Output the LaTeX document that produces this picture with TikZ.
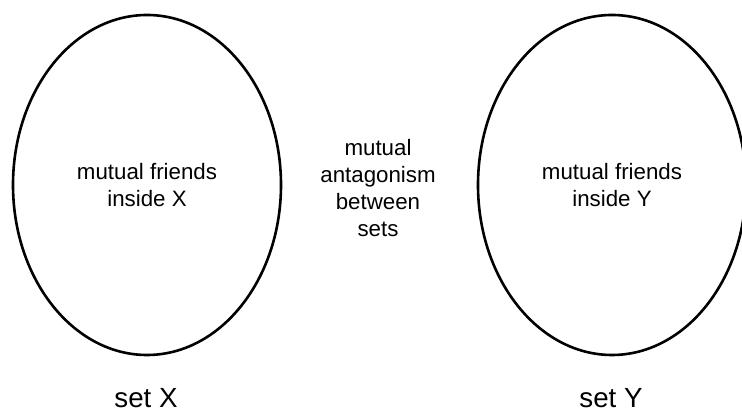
\documentclass[tikz,border=0pt]{standalone}
\usepackage{fontspec}
\setmainfont{Liberation Sans}
\usetikzlibrary{shapes.geometric}
\begin{document}
\begin{tikzpicture}[x=1pt,y=1pt,
  setshape/.style={ellipse, draw=black, line width=2.6pt, inner sep=0pt,
    minimum width=268pt, minimum height=340pt, align=center,
    font=\fontsize{22.3pt}{27pt}\selectfont},
  midtext/.style={align=center, font=\fontsize{22.3pt}{27pt}\selectfont},
  setlabel/.style={font=\fontsize{27.7pt}{33pt}\selectfont, inner sep=0pt}]
\useasboundingbox (0,0) rectangle (742,412);
\node[setshape] (X) at (147,227) {mutual friends\\inside X};
\node[setshape] (Y) at (612,227) {mutual friends\\inside Y};
\node[midtext] (M) at (378,223.5) {mutual\\antagonism\\between\\sets};
\node[setlabel] (LX) at (146,14) {set X};
\node[setlabel] (LY) at (611,14) {set Y};
\end{tikzpicture}
\end{document}
